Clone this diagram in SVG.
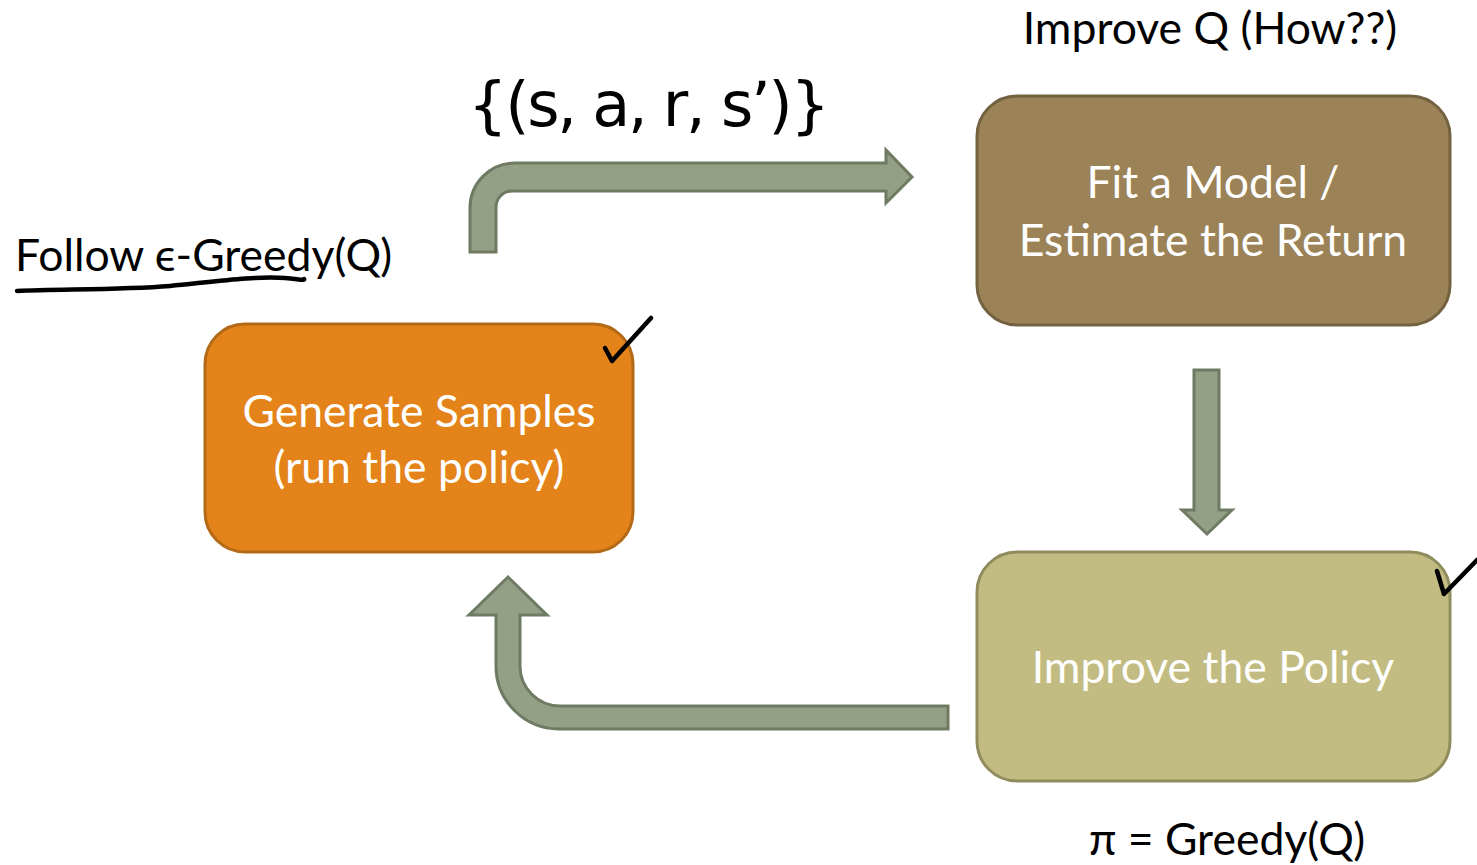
<svg xmlns="http://www.w3.org/2000/svg" width="1477" height="865" viewBox="0 0 1477 865">
  <style>
    .box-text { font-family: Lato, "Open Sans", sans-serif; font-size: 44.5px; fill: #ffffff; text-anchor: middle; }
    .label { font-family: Lato, "Open Sans", sans-serif; font-size: 44.5px; fill: #000000; }
    .flow { fill: #949f86; stroke: #6e7b62; stroke-width: 3; stroke-linejoin: miter; }
    .ink { fill: none; stroke: #000000; stroke-width: 4.5; stroke-linecap: round; stroke-linejoin: round; }
  </style>
  <rect width="1477" height="865" fill="#ffffff"/>

  <!-- connectors -->
  <g id="connectors">
    <path class="flow" d="M470,252 L470,208 A45,45 0 0 1 515,163 L886,163 L886,150 L912,177 L886,203 L886,191 L512,191 A16,16 0 0 0 496,207 L496,252 Z"/>
    <path class="flow" d="M1194,370 L1219,370 L1219,510 L1232,510 L1207,534 L1182,510 L1194,510 Z"/>
    <path class="flow" d="M948,706 L560,706 A40,40 0 0 1 520,666 L520,615 L547,615 L508,577 L469,615 L496,615 L496,666 A63,63 0 0 0 559,729 L948,729 Z"/>
  </g>

  <!-- nodes -->
  <g id="generate-samples">
    <rect x="205" y="324" width="428" height="228" rx="40" ry="40" fill="#e3831a" stroke="#b36a16" stroke-width="3"/>
    <text class="box-text" x="419" y="427">Generate Samples</text>
    <text class="box-text" x="419" y="483">(run the policy)</text>
  </g>

  <g id="fit-model">
    <rect x="977" y="96" width="473" height="229" rx="40" ry="40" fill="#9b8257" stroke="#73623f" stroke-width="3"/>
    <text class="box-text" x="1213" y="198">Fit a Model /</text>
    <text class="box-text" x="1213" y="256">Estimate the Return</text>
  </g>

  <g id="improve-policy">
    <rect x="977" y="552" width="473" height="229" rx="40" ry="40" fill="#c2bc82" stroke="#918c5e" stroke-width="3"/>
    <text class="box-text" x="1213" y="683">Improve the Policy</text>
  </g>

  <!-- annotations -->
  <g id="annotations">
    <text class="label" x="1210" y="44" text-anchor="middle">Improve Q (How??)</text>
    <text class="label" x="15" y="271">Follow ϵ-Greedy(Q)</text>
    <text class="label" x="1227" y="855" text-anchor="middle">π = Greedy(Q)</text>
    <text x="468" y="126" font-family="DejaVu Sans, sans-serif" font-size="62" textLength="362" lengthAdjust="spacing" fill="#000000">{(s, a, r, s’)}</text>
    <path class="ink" d="M17,291 C60,289 120,290 170,286 C220,281 255,276 285,278 C298,279 305,281 304,279"/>
    <path class="ink" d="M605,348 L612,361 L651,318"/>
    <path class="ink" d="M1437,571 L1444,594 L1477,560"/>
  </g>
</svg>
